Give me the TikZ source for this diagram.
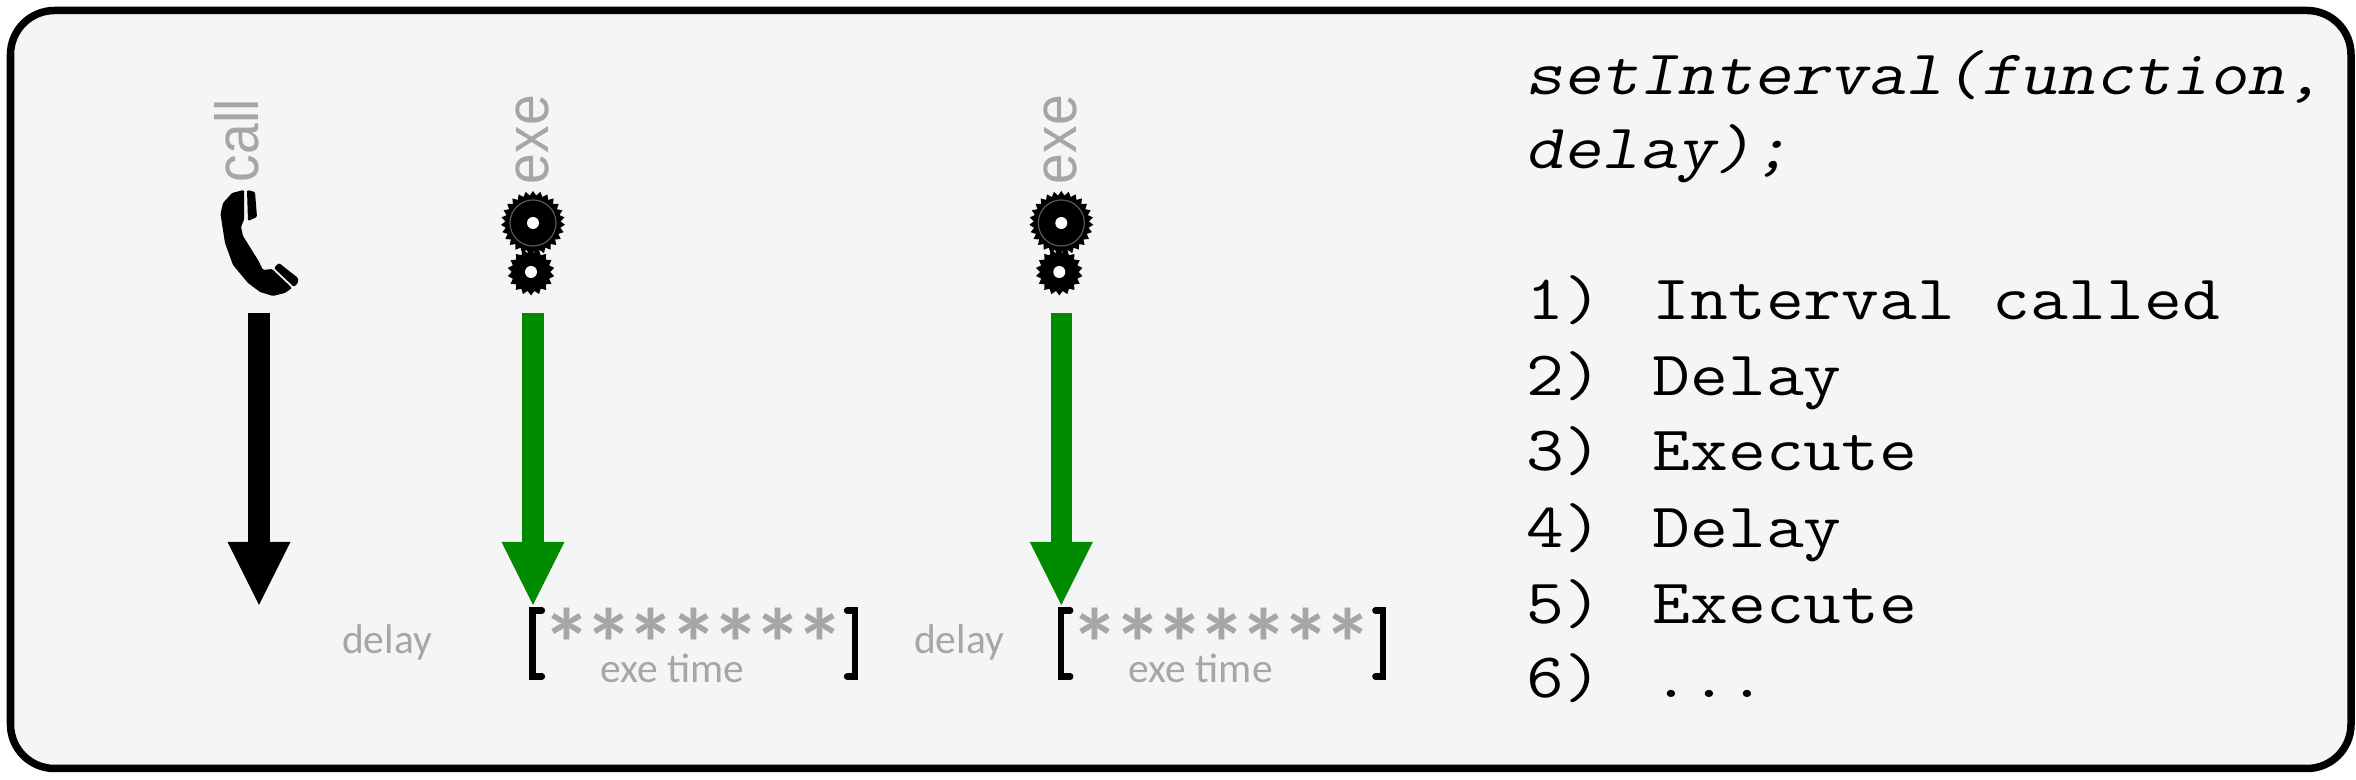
\documentclass[tikz,border=0pt]{standalone}
\usepackage{fontspec}
\usepackage{xcolor}
\usetikzlibrary{shapes.geometric, arrows.meta, positioning}
\setmainfont{Liberation Sans}
\newfontfamily\calfont{Carlito}
\newfontfamily\starfont[LetterSpace=-7]{Carlito Bold}
\newfontfamily\codefont[FakeStretch=1.16]{Latin Modern Mono}
\newfontfamily\codeslant[FakeStretch=1.165, FakeSlant=0.2]{Latin Modern Mono}
\definecolor{panelgrey}{HTML}{F5F5F5}
\definecolor{labelgrey}{HTML}{A6A6A6}
\definecolor{exegreen}{HTML}{008A00}
\tikzset{
  callarrow/.style={line width=0.21cm, -{Triangle[width=0.63cm, length=0.63cm, line width=0pt]}},
  sidelabel/.style={text=labelgrey, rotate=90, yscale=1.1, anchor=base west, inner sep=0pt, font=\fontsize{15.7}{16}\selectfont},
  notelabel/.style={text=labelgrey, anchor=base, inner sep=0pt, font=\calfont\fontsize{11.8}{12}\selectfont},
  gearbig/.style={star, star points=27, star point ratio=1.16, fill=black, inner sep=0pt, minimum size=0.64cm},
  gearsmall/.style={star, star points=18, star point ratio=1.22, fill=black, inner sep=0pt, minimum size=0.47cm},
  gearhole/.style={circle, fill=white, inner sep=0pt, minimum size=0.12cm},
  gearring/.style={circle, draw=black!65, line width=0.012cm, inner sep=0pt, minimum size=0.46cm},
  codeline/.style={anchor=base west, inner sep=0pt, font=\codefont\fontsize{18}{18}\selectfont}
}
\begin{document}
\begin{tikzpicture}[x=0.01cm, y=-0.01cm]
\useasboundingbox (0,0) rectangle (2356,780);
% Panel
\draw[line width=0.075cm, fill=panelgrey, rounded corners=0.44cm] (10.5,10.5) rectangle (2351,768.5);

% Call column
\node[sidelabel] (calltext) at (258,183) {call};
\fill[rounded corners=0.012cm] (244,190) -- (232,193) -- (223,203) -- (220.5,214) -- (225,243) -- (233,265)
  -- (248,283) -- (260,292) -- (273,296) -- (285,293) -- (292,288) -- (272,269) -- (263,270)
  -- (258,260) -- (243,236) -- (241,227) -- (244,220) -- cycle;
\fill[rounded corners=0.012cm] (247,190) -- (255,192) -- (257,217) -- (248,221) -- cycle;
\fill[rounded corners=0.012cm] (274,268) -- (279,263) -- (298,278) -- (298,283) -- (294,287) -- cycle;
\coordinate (calltop) at (259,313);
\coordinate (calltip) at (259,605);
\draw[callarrow, black] (calltop) -- (calltip);

% Two execution columns
\foreach \n/\dx/\dl in {one/0/387, two/5.28/959} {
  \node[notelabel] (delay\n) at (\dl,654) {delay};
  \begin{scope}[xshift=\dx cm]
    \node[sidelabel] (exetext\n) at (548,185) {exe};
    \node[gearbig] (biggear\n) at (533,223) {};
    \node[gearring] (ring\n) at (biggear\n) {};
    \node[gearhole] (bighole\n) at (biggear\n) {};
    \node[gearsmall] (smallgear\n) at (531,272) {};
    \node[gearhole] (smallhole\n) at (smallgear\n) {};
    \coordinate (exetop\n) at (533,313);
    \coordinate (exetip\n) at (533,605);
    \draw[callarrow, exegreen] (exetop\n) -- (exetip\n);
    % Brackets
    \draw[line width=0.062cm, line cap=round] (542,610.5) -- (532.5,610.5) -- (532.5,676.5) -- (542,676.5);
    \draw[line width=0.062cm, line cap=round] (847,610.5) -- (855,610.5) -- (855,676.5) -- (847,676.5);
    \node[text=labelgrey, inner sep=0pt, font=\starfont\fontsize{28}{28}\selectfont] (stars\n) at (693.5,643) {*******};
    \node[notelabel] (exetime\n) at (672.5,683) {exe time};
  \end{scope}
}

% Code text
\node[codeline, font=\codeslant\fontsize{18}{18}\selectfont] (signature) at (1525,95) {setInterval(function,};
\node[codeline, font=\codeslant\fontsize{18}{18}\selectfont] (signaturetwo) at (1525,169) {delay);};
\foreach \i/\y/\txt in {1/320/{Interval called}, 2/396/Delay, 3/471/Execute, 4/548/Delay, 5/624/Execute, 6/698/{{.}{.}{.}}} {
  \node[codeline] (num\i) at (1526,\y) {\i)};
  \node[codeline] (step\i) at (1652,\y) {\txt};
}
\end{tikzpicture}
\end{document}
